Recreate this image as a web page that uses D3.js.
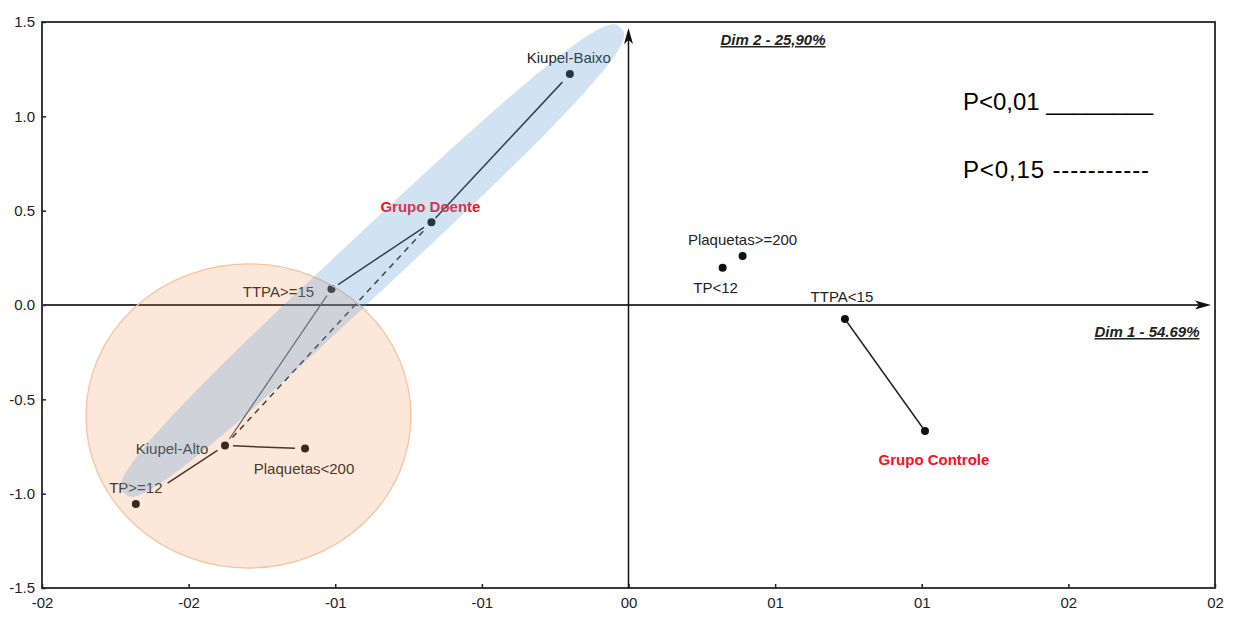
<!DOCTYPE html>
<html>
<head>
<meta charset="utf-8">
<script src="https://cdn.jsdelivr.net/npm/d3@7"></script>
<style>
  html, body { margin: 0; padding: 0; background: #fff; }
  svg { display: block; }
  text { font-family: "Liberation Sans", Arial, sans-serif; }
</style>
</head>
<body>
<svg id="chart" width="1237" height="617"></svg>
<script>
// ---------------- data ----------------
const xTicks = [-2, -1.5, -1, -0.5, 0, 0.5, 1, 1.5, 2];
const xTickLabels = ["-02", "-02", "-01", "-01", "00", "01", "01", "02", "02"];
const yTicks = [-1.5, -1, -0.5, 0, 0.5, 1, 1.5];
const yTickLabels = ["-1.5", "-1.0", "-0.5", "0.0", "0.5", "1.0", "1.5"];

const pointNames = ["Kiupel-Baixo", "Grupo Doente", "TTPA>=15", "Kiupel-Alto", "Plaquetas<200",
                    "TP>=12", "Plaquetas>=200", "TP<12", "TTPA<15", "Grupo Controle"];
const dim1 = [-0.20, -0.672, -1.013, -1.376, -1.103, -1.680, 0.389, 0.321, 0.738, 1.011];
const dim2 = [1.224, 0.438, 0.085, -0.745, -0.761, -1.055, 0.260, 0.198, -0.074, -0.668];
const isGroup = [false, true, false, false, false, false, false, false, false, true];

// associations: [from, to, significance]
const linkFrom = ["Kiupel-Baixo", "Grupo Doente", "TTPA>=15", "Grupo Doente", "Kiupel-Alto", "Kiupel-Alto", "TTPA<15"];
const linkTo   = ["Grupo Doente", "TTPA>=15", "Kiupel-Alto", "Kiupel-Alto", "Plaquetas<200", "TP>=12", "Grupo Controle"];
const linkSig  = ["p01", "p01", "p01", "p15", "p01", "p01", "p01"];

// group regions (data units)
const doenteRegionCenter = [-0.873, 0.236];
const doenteRegionAxisA = [0.847, 1.232];
const doenteRegionAxisB = [0.066, -0.110];
const kiupelRegionCenter = [-1.296, -0.588];
const kiupelRegionRadii = [0.554, 0.806];

const legendLabels = ["P<0,01 ________", "P<0,15 -----------"];
const dimLabels = ["Dim 1 - 54.69%", "Dim 2 - 25,90%"];

// ---------------- layout / styles ----------------
const labelOffsets = {
  "Kiupel-Baixo": [-1, -11], "Grupo Doente": [-1, -10], "TTPA>=15": [-53, 8],
  "Kiupel-Alto": [-53, 8], "Plaquetas<200": [-1, 25], "TP>=12": [0, -11],
  "Plaquetas>=200": [0, -11], "TP<12": [-7, 25], "TTPA<15": [-3, -17], "Grupo Controle": [9, 34]
};
const linkPads = [[11, 6], [9, 8], [8, 8], [12, 8], [8, 10], [9, 38], [4, 4]];

const svg = d3.select("#chart");
const L = 42, R = 1215, T = 22, B = 588;
const x = d3.scaleLinear().domain([-2, 2]).range([L, R]);
const y = d3.scaleLinear().domain([-1.5, 1.5]).range([B, T]);

svg.append("rect").attr("width", 1237).attr("height", 617).attr("fill", "#fff");

// frame
svg.append("rect").attr("x", L).attr("y", T).attr("width", R - L).attr("height", B - T)
  .attr("fill", "none").attr("stroke", "#3a3a3a").attr("stroke-width", 2);

// axes
const xAxis = d3.axisBottom(x).tickValues(xTicks).tickFormat((d, i) => xTickLabels[i])
  .tickSizeInner(-4).tickSizeOuter(0).tickPadding(9);
const gx = svg.append("g").attr("transform", `translate(0,${B})`).call(xAxis);
gx.select(".domain").remove();
gx.selectAll("line").attr("stroke", "#222").attr("stroke-width", 1.5);
gx.selectAll("text").attr("font-size", 15).attr("fill", "#222");

const yAxis = d3.axisLeft(y).tickValues(yTicks).tickFormat((d, i) => yTickLabels[i])
  .tickSizeInner(-4).tickSizeOuter(0).tickPadding(7);
const gy = svg.append("g").attr("transform", `translate(${L},0)`).call(yAxis);
gy.select(".domain").remove();
gy.selectAll("line").attr("stroke", "#222").attr("stroke-width", 1.5);
gy.selectAll("text").attr("font-size", 15).attr("fill", "#222");

// origin axes with arrows
const x0 = x(0), y0 = y(0);
svg.append("line").attr("x1", L).attr("x2", R - 14).attr("y1", y0).attr("y2", y0)
  .attr("stroke", "#3a3a3a").attr("stroke-width", 2);
svg.append("path").attr("d", `M${R - 4},${y0} L${R - 20},${y0 - 4.5} L${R - 16},${y0} L${R - 20},${y0 + 4.5} Z`)
  .attr("fill", "#111");
svg.append("line").attr("x1", x0).attr("x2", x0).attr("y1", B).attr("y2", T + 18)
  .attr("stroke", "#111").attr("stroke-width", 1.5);
svg.append("path").attr("d", `M${x0},${T + 6} L${x0 - 4.5},${T + 22} L${x0},${T + 18} L${x0 + 4.5},${T + 22} Z`)
  .attr("fill", "#111");

// points table
const pts = pointNames.map((n, i) => ({ name: n, x: dim1[i], y: dim2[i], group: isGroup[i] }));
const byName = Object.fromEntries(pts.map(p => [p.name, p]));

// links
linkFrom.forEach((f, i) => {
  const a = byName[f], b = byName[linkTo[i]];
  const ax = x(a.x), ay = y(a.y), bx = x(b.x), by = y(b.y);
  const len = Math.hypot(bx - ax, by - ay), ux = (bx - ax) / len, uy = (by - ay) / len;
  const [p0, p1] = linkPads[i];
  svg.append("line")
    .attr("x1", ax + ux * p0).attr("y1", ay + uy * p0)
    .attr("x2", bx - ux * p1).attr("y2", by - uy * p1)
    .attr("stroke", linkSig[i] === "p15" ? "#2a2a2a" : (f === "TTPA>=15" ? "#555" : "#222"))
    .attr("stroke-width", f === "TTPA>=15" ? 1.2 : 1.5)
    .attr("stroke-dasharray", linkSig[i] === "p15" ? "6,5" : null);
});

// dots
svg.selectAll("circle.pt").data(pts).join("circle").attr("class", "pt")
  .attr("cx", d => x(d.x)).attr("cy", d => y(d.y)).attr("r", 4).attr("fill", "#111");

// labels
svg.selectAll("text.lbl").data(pts).join("text").attr("class", "lbl")
  .attr("x", d => x(d.x) + labelOffsets[d.name][0])
  .attr("y", d => y(d.y) + labelOffsets[d.name][1])
  .attr("text-anchor", "middle")
  .attr("font-size", 15)
  .attr("font-weight", d => d.group ? "bold" : "normal")
  .attr("fill", d => d.group ? "#ff0d1a" : "#222")
  .text(d => d.name);

// Kiupel-Alto region (orange)
svg.append("ellipse")
  .attr("cx", x(kiupelRegionCenter[0])).attr("cy", y(kiupelRegionCenter[1]))
  .attr("rx", x(kiupelRegionCenter[0] + kiupelRegionRadii[0]) - x(kiupelRegionCenter[0]))
  .attr("ry", y(kiupelRegionCenter[1]) - y(kiupelRegionCenter[1] + kiupelRegionRadii[1]))
  .attr("fill", "#ef8a45").attr("fill-opacity", 0.2)
  .attr("stroke", "#f6c39c").attr("stroke-width", 1.3);

// Grupo Doente region (blue, elongated)
const nExp = 2.9;
const sp = v => Math.sign(v) * Math.pow(Math.abs(v), 2 / nExp);
const ring = d3.range(0, 360, 2).map(deg => {
  const t = deg * Math.PI / 180, c = sp(Math.cos(t)), s = sp(Math.sin(t));
  return [doenteRegionCenter[0] + doenteRegionAxisA[0] * c + doenteRegionAxisB[0] * s,
          doenteRegionCenter[1] + doenteRegionAxisA[1] * c + doenteRegionAxisB[1] * s];
});
svg.append("path")
  .attr("d", d3.line().x(d => x(d[0])).y(d => y(d[1])).curve(d3.curveCardinalClosed)(ring))
  .attr("fill", "#5b9bd5").attr("fill-opacity", 0.28);

// dimension labels
const dimPos = [[1147, 337], [773, 45]];
dimLabels.forEach((t, i) => {
  svg.append("text").attr("x", dimPos[i][0]).attr("y", dimPos[i][1])
    .attr("text-anchor", "middle").attr("font-size", 15).attr("font-weight", "bold")
    .attr("font-style", "italic").attr("text-decoration", "underline").attr("fill", "#222")
    .text(t);
});

// legend
const legendY = [110, 178];
const legendLen = [190, 186];
legendLabels.forEach((t, i) => {
  svg.append("text").attr("x", 963).attr("y", legendY[i])
    .attr("font-family", "'Open Sans', 'Noto Sans', sans-serif")
    .attr("font-size", 24).attr("fill", "#000")
    .attr("textLength", legendLen[i]).attr("lengthAdjust", "spacing")
    .text(t);
});
</script>
</body>
</html>
